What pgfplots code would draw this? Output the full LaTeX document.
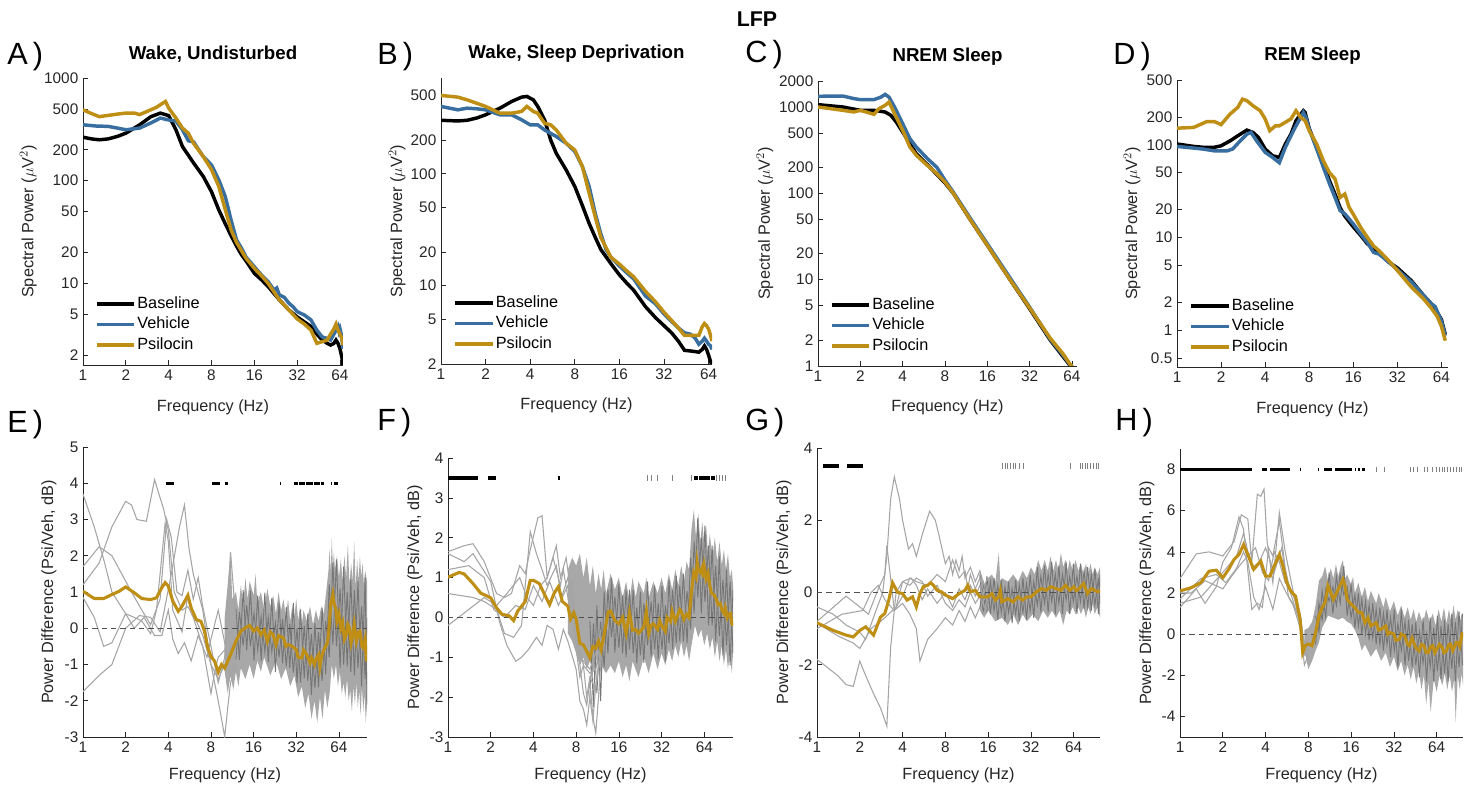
\documentclass[border=0pt]{standalone}
\usepackage{fontspec}
\setmainfont{Liberation Sans}
\usepackage{pgfplots}
\pgfplotsset{compat=1.18}
\definecolor{axc}{RGB}{38,38,38}
\definecolor{veh}{RGB}{56,110,160}
\definecolor{psi}{RGB}{190,143,20}
\definecolor{gline}{RGB}{165,165,165}
\definecolor{gbandL}{RGB}{168,168,168}
\definecolor{gzig}{RGB}{118,118,118}
\definecolor{zline}{RGB}{80,80,80}
\tikzset{
  bl/.style={black, line width=2.6pt},
  vl/.style={veh, line width=2.6pt},
  pl/.style={psi, line width=2.6pt},
  gl/.style={gline, line width=0.8pt},
  gz/.style={gzig, line width=0.7pt},
  gold/.style={psi, line width=2.3pt},
  zl/.style={zline, dash pattern=on 4pt off 3pt, line width=0.9pt},
  sig/.style={black, line width=2.6pt},
}
\pgfplotsset{
  scale only axis, enlargelimits=false,
  axis x line*=bottom, axis y line*=left,
  axis line style={-, draw=axc, line width=0.6pt},
  tick pos=left, tick align=inside, major tick length=3.5pt,
  tick style={draw=axc, line width=0.5pt},
  log basis x=2,
  ticklabel style={font=\fontsize{11.5}{12}\selectfont, text=axc},
  /pgf/number format/assume math mode=true,
  label style={font=\fontsize{12.2}{13}\selectfont, text=axc},
  title style={font=\fontsize{14}{16}\selectfont\bfseries, text=black, at={(0.5,1)}, anchor=south, yshift=2pt},
  legend cell align=left,
  legend image code/.code={\draw[#1, line width=2.6pt] (0pt,0pt) -- (28pt,0pt);},
  legend style={at={(0.045,0.035)}, anchor=south west, draw=none, fill=none,
      font=\fontsize{12.2}{13}\selectfont, row sep=1pt, inner sep=0pt,
      nodes={text height=9pt, text depth=3pt, inner sep=1.2pt}},
}
\begin{document}
\begin{tikzpicture}
\path[use as bounding box] (0,0) rectangle (1104.75pt,591.75pt);
\node[font=\fontsize{16}{18}\selectfont\bfseries] at (567.75pt,577.5pt) {LFP};
\node[anchor=west, inner sep=0, font=\fontsize{23}{25}\selectfont] at (5.25pt,549pt) {A\,)};
\node[anchor=west, inner sep=0, font=\fontsize{23}{25}\selectfont] at (282.75pt,549pt) {B\,)};
\node[anchor=west, inner sep=0, font=\fontsize{23}{25}\selectfont] at (558.75pt,551pt) {C\,)};
\node[anchor=west, inner sep=0, font=\fontsize{23}{25}\selectfont] at (834.75pt,549pt) {D\,)};
\node[anchor=west, inner sep=0, font=\fontsize{23}{25}\selectfont] at (5.25pt,273pt) {E\,)};
\node[anchor=west, inner sep=0, font=\fontsize{23}{25}\selectfont] at (282.75pt,274.5pt) {F\,)};
\node[anchor=west, inner sep=0, font=\fontsize{23}{25}\selectfont] at (558.75pt,274.5pt) {G\,)};
\node[anchor=west, inner sep=0, font=\fontsize{23}{25}\selectfont] at (836.25pt,274.5pt) {H\,)};

% ---------------- A ----------------
\begin{axis}[anchor=south west, at={(62.25pt,318pt)}, width=195pt, height=215.25pt,
  xmode=log, ymode=log, xmin=1, xmax=67.2, ymin=1.6, ymax=1000,
  xtick={1,2,4,8,16,32,64}, xticklabels={1,2,4,8,16,32,64},
  ytick={2,5,10,20,50,100,200,500,1000}, yticklabels={2,5,10,20,50,100,200,500,1000},
  xlabel={Frequency (Hz)}, ylabel={Spectral Power ($\mu$V$^2$)},
  xlabel style={at={(axis description cs:0.5,-0.146)}, anchor=center},
  ylabel style={at={(axis description cs:-0.21,0.5)}, anchor=center},
  title={Wake, Undisturbed}]
\addplot[bl] coordinates {(1,265) (1.15,255) (1.3,250) (1.5,255) (1.75,270) (2,290) (2.5,350) (3,420) (3.5,455) (4,430) (4.5,313) (5,215) (6,148) (7,110) (8,78) (9,52) (10,38) (11,29) (12,23) (13,19) (14,16.5) (16,12.5) (18,10.8) (20,9.3) (24,6.9) (28,5.5) (32,4.7) (36,4.2) (40,3.8) (44,3.2) (48,2.8) (52,2.6) (55,2.5) (58,2.6) (60,2.8) (62,2.6) (64,2.3) (66,1.9) (67.2,1.6)};
\addlegendentry{Baseline}
\addplot[vl] coordinates {(1,350) (1.25,340) (1.5,338) (1.75,325) (2,313) (2.5,325) (3,365) (3.5,407) (4,390) (4.5,380) (5,313) (5.5,245) (6,238) (6.5,200) (7,172) (8,142) (9,102) (10,70) (11,41) (12,26.5) (13,22) (14,18) (16,14.5) (18,12) (20,10.4) (22,8.6) (23,9) (24,7.7) (26,7.3) (28,6.4) (30,5.9) (32,5.3) (36,4.9) (40,4.4) (44,3.5) (48,3.0) (52,2.9) (55,2.8) (58,3.2) (60,3.5) (62,3.8) (63,3.4) (64,3.6) (66,3.0) (67.2,2.3)};
\addlegendentry{Vehicle}
\addplot[pl] coordinates {(1,490) (1.15,450) (1.3,420) (1.5,432) (1.75,445) (2,455) (2.3,455) (2.5,440) (3,490) (3.3,520) (3.5,550) (3.8,590) (4,510) (4.5,407) (5,325) (5.5,290) (6,230) (7,172) (8,128) (9,88) (10,52) (11,33) (12,25) (14,17.5) (16,14) (18,11.8) (20,10) (24,6.9) (28,5.5) (32,4.5) (36,4.0) (40,3.5) (44,2.6) (48,2.7) (52,2.8) (55,3.2) (58,3.6) (60,4.0) (62,3.5) (64,3.2) (66,2.9) (67.2,2.5)};
\addlegendentry{Psilocin}
\end{axis}

% ---------------- B ----------------
\begin{axis}[anchor=south west, at={(330.75pt,318.75pt)}, width=203.25pt, height=214.5pt,
  xmode=log, ymode=log, xmin=1, xmax=67.5, ymin=2, ymax=716,
  xtick={1,2,4,8,16,32,64}, xticklabels={1,2,4,8,16,32,64},
  ytick={2,5,10,20,50,100,200,500}, yticklabels={2,5,10,20,50,100,200,500},
  xlabel={Frequency (Hz)}, ylabel={Spectral Power ($\mu$V$^2$)},
  xlabel style={at={(axis description cs:0.5,-0.146)}, anchor=center},
  ylabel style={at={(axis description cs:-0.162,0.5)}, anchor=center},
  title={Wake, Sleep Deprivation}]
\addplot[bl] coordinates {(1,300) (1.3,296) (1.5,300) (1.75,315) (2,336) (2.5,385) (3,442) (3.5,483) (3.8,490) (4.2,457) (4.5,399) (5,303) (5.5,200) (6,152) (7,108) (8,77) (9,52) (10,36) (11,27) (12,21) (14,15.8) (16,12.5) (18,10.5) (20,9.1) (24,6.5) (28,5.2) (32,4.4) (36,3.8) (40,3.2) (44,2.65) (50,2.6) (55,2.55) (58,2.7) (60,2.9) (62,2.7) (64,2.4) (66,2.1) (67.5,1.95)};
\addlegendentry{Baseline}
\addplot[vl] coordinates {(1,399) (1.2,380) (1.3,372) (1.5,385) (1.75,380) (2,372) (2.5,336) (3,336) (3.5,303) (4,273) (4.5,273) (5,246) (6,215) (7,187) (8,158) (9,116) (10,77) (11,44) (12,29) (13,21) (14,18) (16,15) (18,13) (20,11.5) (24,8.1) (28,6.9) (32,5.6) (36,4.8) (40,4.2) (44,3.8) (48,3.7) (52,3.4) (55,3.0) (58,3.2) (60,3.4) (62,3.2) (64,3.0) (66,2.9) (67.5,2.7)};
\addlegendentry{Vehicle}
\addplot[pl] coordinates {(1,500) (1.3,483) (1.5,457) (1.75,425) (2,399) (2.5,347) (3,347) (3.5,360) (3.8,399) (4.2,360) (4.5,347) (5,282) (5.5,273) (6,246) (7,187) (8,163) (9,116) (10,67) (11,41) (12,27) (14,18) (16,15.6) (18,13.5) (20,12) (24,8.9) (28,7.2) (32,5.8) (36,4.9) (40,4.2) (44,3.6) (50,3.6) (55,3.6) (58,4.3) (60,4.6) (62,4.4) (64,4.1) (66,3.6) (67.5,3.2)};
\addlegendentry{Psilocin}
\end{axis}

% ---------------- C ----------------
\begin{axis}[anchor=south west, at={(613.5pt,317.25pt)}, width=194.25pt, height=213.75pt,
  xmode=log, ymode=log, xmin=1, xmax=69.5, ymin=1, ymax=2000,
  xtick={1,2,4,8,16,32,64}, xticklabels={1,2,4,8,16,32,64},
  ytick={1,2,5,10,20,50,100,200,500,1000,2000}, yticklabels={1,2,5,10,20,50,100,200,500,1000,2000},
  xlabel={Frequency (Hz)}, ylabel={Spectral Power ($\mu$V$^2$)},
  xlabel style={at={(axis description cs:0.5,-0.146)}, anchor=center},
  ylabel style={at={(axis description cs:-0.205,0.5)}, anchor=center},
  title={NREM Sleep}]
\addplot[bl] coordinates {(1,1064) (1.5,1000) (2,915) (2.5,915) (3,875) (3.3,800) (3.6,670) (4,513) (4.5,376) (5,288) (6,215) (7,165) (8,132) (9.17,100) (12.05,50) (16,25) (23.2,10) (32,4.6) (44.8,2) (55,1.3) (64,0.95) (66,0.85)};
\addlegendentry{Baseline}
\addplot[vl] coordinates {(1,1330) (1.5,1340) (1.8,1250) (2,1216) (2.5,1216) (2.8,1300) (3,1400) (3.2,1300) (3.5,1000) (4,641) (4.5,430) (5,344) (6,252) (7,200) (8,142) (9.17,103) (12.05,52) (16,26) (23.2,10.5) (32,4.8) (44.8,2.05) (55,1.35) (64,0.97) (66,0.87)};
\addlegendentry{Vehicle}
\addplot[pl] coordinates {(1,1000) (1.5,915) (1.8,875) (2,915) (2.5,822) (2.7,950) (3,1045) (3.2,1140) (3.5,837) (4,537) (4.5,344) (5,276) (6,210) (7,169) (8,135) (9.17,100) (12.05,50) (16,25) (23.2,10) (32,4.7) (44.8,2.1) (55,1.4) (62,1.05) (64,1.0) (66,0.88)};
\addlegendentry{Psilocin}
\end{axis}

% ---------------- D ----------------
\begin{axis}[anchor=south west, at={(882.75pt,316.5pt)}, width=203.25pt, height=215.25pt,
  xmode=log, ymode=log, xmin=1, xmax=71, ymin=0.4, ymax=500,
  xtick={1,2,4,8,16,32,64}, xticklabels={1,2,4,8,16,32,64},
  ytick={0.5,1,2,5,10,20,50,100,200,500}, yticklabels={0.5,1,2,5,10,20,50,100,200,500},
  xlabel={Frequency (Hz)}, ylabel={Spectral Power ($\mu$V$^2$)},
  xlabel style={at={(axis description cs:0.5,-0.146)}, anchor=center},
  ylabel style={at={(axis description cs:-0.166,0.5)}, anchor=center},
  title={REM Sleep}]
\addplot[bl] coordinates {(1,102) (1.3,96) (1.5,94) (1.8,94) (2,97.5) (2.3,110) (2.6,125) (3,144) (3.3,136) (3.6,120) (4,90) (4.5,76) (5,73) (5.5,102) (6,130) (6.5,182) (7,214) (7.3,233) (7.5,223) (8,150) (9,94) (10,62) (11,41) (12,29.4) (13,21) (14,17) (16,13) (18,10.5) (20,8.5) (24,6.9) (28,5.4) (32,4.7) (40,3.4) (48,2.4) (55,1.9) (60,1.55) (64,1.3) (68,0.9)};
\addlegendentry{Baseline}
\addplot[vl] coordinates {(1,96) (1.5,90) (1.8,86) (2.2,86) (2.4,90) (2.7,110) (3,130) (3.2,136) (3.5,110) (4,83) (4.5,73) (5,64) (5.5,94) (6,125) (6.5,160) (7,197) (7.3,223) (7.6,197) (8,148) (9,90) (10,57) (11,38) (12,27) (13,19.5) (14,18) (16,14) (18,10.9) (20,8.8) (22,6.9) (24,6.6) (28,5.4) (32,4.5) (36,3.8) (40,3.3) (48,2.4) (55,1.9) (58,1.8) (62,1.4) (64,1.25) (68,0.87)};
\addlegendentry{Vehicle}
\addplot[pl] coordinates {(1,151) (1.3,154) (1.6,178) (1.8,178) (2,165) (2.3,214) (2.6,253) (2.8,311) (3,299) (3.3,264) (3.7,233) (4,190) (4.3,142) (4.7,160) (5,160) (5.5,175) (6,190) (6.5,233) (7,197) (7.5,182) (8,142) (9,102) (10,67) (11,50) (12,43) (13,27) (14,29.4) (15,21.1) (16,17.8) (18,12.8) (20,10) (22,8.1) (24,7.2) (28,5.6) (32,4.4) (40,2.9) (48,2.2) (55,1.7) (60,1.4) (64,1.1) (68,0.77)};
\addlegendentry{Psilocin}
\end{axis}

% ---------------- E ----------------
\begin{axis}[anchor=south west, at={(62.25pt,39pt)}, width=213pt, height=217.5pt,
  xmode=log, xmin=1, xmax=101, ymin=-3, ymax=5,
  xtick={1,2,4,8,16,32,64}, xticklabels={1,2,4,8,16,32,64},
  ytick={-3,-2,-1,0,1,2,3,4,5},
  xlabel={Frequency (Hz)}, ylabel={Power Difference (Psi/Veh, dB)},
  xlabel style={at={(axis description cs:0.5,-0.133)}, anchor=center},
  ylabel style={at={(axis description cs:-0.12,0.5)}, anchor=center}]
\addplot[fill=gbandL, draw=none] coordinates {(10,0.3) (10.5,1.2) (11,2.1) (11.3,0.8) (12,1.0) (12.5,0.5) (13,1.2) (13.5,0.6) (14,1.4) (14.5,0.8) (15,1.3) (16,0.9) (16.5,1.5) (17,0.7) (18,1.0) (19,0.5) (20,1.1) (21,0.6) (22,0.9) (23,0.4) (24,1.0) (25,0.5) (26,0.8) (27,0.3) (28,0.8) (29,0.2) (30,0.6) (31,0.3) (32,0.8) (33,0.2) (34,0.6) (35,0.1) (36,0.5) (38,0.2) (40,0.6) (42,0.1) (44,0.5) (46,0.2) (48,0.6) (50,0.4) (52,1.0) (54,1.6) (55,2.2) (56,1.5) (57,2.5) (58,1.7) (59,2.1) (60,1.6) (62,2.0) (64,1.4) (66,1.9) (68,1.3) (70,2.0) (72,1.4) (74,2.3) (76,1.2) (78,1.8) (80,1.3) (82,2.4) (84,1.1) (86,1.9) (88,1.3) (90,2.0) (92,1.4) (94,1.8) (96,1.2) (98,1.6) (101,1.3)
 (101,-2.1) (99,-2.6) (97,-1.8) (95,-2.3) (93,-1.6) (91,-2.4) (89,-1.7) (87,-2.2) (85,-1.5) (83,-2.1) (81,-1.6) (79,-2.3) (77,-1.7) (75,-2.0) (73,-1.4) (71,-1.9) (69,-1.5) (67,-1.8) (65,-1.2) (63,-1.6) (61,-1.0) (59,-1.4) (57,-1.0) (55,-1.8) (53,-2.2) (51,-1.7) (49,-2.5) (47,-1.9) (45,-2.6) (43,-2.0) (41,-2.5) (39,-1.8) (37,-2.2) (35,-1.6) (33,-1.9) (31,-1.3) (29,-1.6) (27,-1.1) (25,-1.4) (23,-0.9) (21,-1.3) (19,-0.8) (18,-1.2) (17,-0.9) (16,-1.4) (15,-1.0) (14,-1.4) (13,-1.1) (12.5,-1.6) (12,-1.2) (11.5,-1.7) (11,-1.3) (10.5,-1.8) (10,-1.2)} -- cycle;
\addplot[gz] coordinates {(12,0.54) (12.7,-0.87) (13.5,1.05) (14.3,-0.6) (15.2,1.04) (16.1,-0.89) (17.1,0.9) (18.1,-0.9) (19.2,0.98) (20.3,-0.93) (21.5,0.84) (22.8,-1.21) (24.2,0.7) (25.6,-0.97) (27.2,0.58) (28.8,-1.1) (30.5,0.69) (32.4,-1.53) (34.3,0.52) (36.4,-1.39) (38.6,0.41) (40.9,-1.84) (43.3,0.15) (45.9,-1.63) (48.7,0.57) (51.6,-1.27) (54.7,1.21) (58,-0.45) (61.5,1.9) (65.2,-1.1) (69.1,1.7) (73.2,-1.05) (77.6,1.35) (82.3,-1.3) (87.2,1.3) (92.5,-1.6) (98,1.4) (101,-2.1)};
\addplot[gz] coordinates {(12,-0.86) (12.7,0.45) (13.5,-0.48) (14.3,0.63) (15.2,-0.5) (16.1,0.42) (17.1,-0.6) (18.1,0.32) (19.2,-0.65) (20.3,0.3) (21.5,-0.65) (22.8,0.15) (24.2,-0.8) (25.6,0.25) (27.2,-1.05) (28.8,0.13) (30.5,-1.22) (32.4,0.0) (34.3,-1.5) (36.4,0.08) (38.6,-1.45) (40.9,-0.15) (43.3,-1.65) (45.9,-0.1) (48.7,-1.45) (51.6,0.2) (54.7,-0.8) (58,1.8) (61.5,-0.5) (65.2,1.1) (69.1,-1.0) (73.2,1.0) (77.6,-1.2) (82.3,1.05) (87.2,-1.1) (92.5,0.6) (98,-1.4) (101,0.3)};
\addplot[gl] coordinates {(1,3.7) (1.2,2.8) (1.4,1.9) (1.6,1.0) (2,0.4) (2.3,0.3) (2.6,0.2) (3,-0.15) (3.3,0.5) (3.8,2.9) (4,2.4) (4.3,0.5) (5,-0.1) (5.5,0.9) (6,0.4) (7,-0.2) (8,-1.0) (9,-1.4) (10,-1.0) (11,-0.5) (12,-1.2)};
\addplot[gl] coordinates {(1,-1.75) (1.3,-1.3) (1.6,-1.0) (2,0.0) (2.5,0.35) (3,0.3) (3.5,-0.1) (4.2,1.5) (4.8,2.8) (5.2,3.4) (5.6,2.2) (6,1.5) (7,0.5) (8,-1.0) (9,-2.0) (9.5,-2.5) (10,-3.0) (10.5,-2.2) (11,-1.5) (12,-1.0)};
\addplot[gl] coordinates {(1,1.7) (1.3,2.25) (1.6,2.0) (2,1.3) (2.2,1.0) (2.6,0.5) (3,0.1) (3.5,0.8) (3.9,3.0) (4.2,2.5) (4.6,1.0) (5,0.9) (5.5,1.6) (6,0.8) (6.5,1.4) (7,0.6) (8,-0.5) (9,-1.5) (10,-0.8) (11,2.1) (12,0.2)};
\addplot[gl] coordinates {(1,1.2) (1.3,1.8) (1.6,2.8) (2,3.5) (2.2,3.4) (2.4,3.0) (2.8,2.95) (3.2,4.1) (3.5,3.6) (3.7,3.3) (4,2.7) (4.4,1.0) (5,0.5) (5.5,0.6) (6,0.3) (7,-0.5) (8,-1.8) (8.5,-1.2) (9,-0.8) (10,-0.6) (11,0.0) (12,-0.5)};
\addplot[gl] coordinates {(1,0.85) (1.2,0.3) (1.4,-0.5) (1.6,-0.4) (2,0.4) (2.3,0.0) (2.7,0.3) (3.2,-0.2) (3.6,-0.2) (4,0.5) (4.3,-0.3) (4.7,-0.7) (5.2,-0.4) (5.8,-0.9) (6.5,-0.2) (7.5,-0.8) (8,-0.3) (9,0.5) (10,-0.4) (11,-1.3) (12,-0.6)};
\addplot[zl] coordinates {(1,0) (101,0)};
\addplot[gold] coordinates {(1,1.02) (1.2,0.82) (1.4,0.82) (1.6,0.93) (1.8,1.02) (2,1.14) (2.3,0.98) (2.6,0.82) (3,0.79) (3.3,0.84) (3.6,1.12) (3.8,1.26) (4,1.16) (4.3,0.75) (4.7,0.47) (5,0.61) (5.5,0.91) (5.8,0.56) (6.3,0.24) (6.8,0.19) (7.2,-0.08) (7.6,-0.54) (8,-0.78) (8.5,-0.91) (9,-1.21) (9.5,-1.0) (10,-1.1) (11,-0.73) (12,-0.36) (13,-0.08) (14,0.01) (15,0.08) (16,-0.08) (17,0.01) (18,-0.18) (19,-0.05) (20,-0.36) (21,-0.1) (22,-0.18) (23,-0.45) (24,-0.2) (26,-0.27) (27,-0.5) (28,-0.45) (30,-0.5) (32,-0.59) (33,-0.8) (35,-0.82) (36,-0.6) (38,-0.73) (40,-0.95) (41,-0.82) (43,-1.0) (44,-0.85) (46,-0.73) (47,-1.05) (48,-0.82) (50,-0.6) (51,-0.54) (53,-0.4) (54,-0.18) (56,0.66) (58,0.93) (59,0.7) (61,0.52) (62,0.2) (64,0.38) (66,0.0) (68,0.15) (70,-0.3) (72,-0.18) (74,0.1) (76,0.01) (78,-0.4) (80,-0.22) (82,0.1) (85,-0.36) (88,-0.1) (90,-0.08) (93,-0.5) (95,-0.54) (98,-0.3) (100,-0.91) (101,-0.6)};
\addplot[sig, unbounded coords=jump] coordinates {(3.87,4) (4.4,4) (nan,nan) (8.2,4) (9.2,4) (nan,nan) (10.1,4) (10.5,4) (nan,nan) (24.4,4) (25,4) (nan,nan) (30.6,4) (33,4) (nan,nan) (33.6,4) (37,4) (nan,nan) (37.7,4) (42,4) (nan,nan) (42.8,4) (47,4) (nan,nan) (47.8,4) (50.6,4) (nan,nan) (56,4) (57.5,4) (nan,nan) (59.5,4) (62.6,4)};
\end{axis}

% ---------------- F ----------------
\begin{axis}[anchor=south west, at={(336pt,39pt)}, width=213.75pt, height=209.25pt,
  xmode=log, xmin=1, xmax=102, ymin=-3, ymax=4,
  xtick={1,2,4,8,16,32,64}, xticklabels={1,2,4,8,16,32,64},
  ytick={-3,-2,-1,0,1,2,3,4},
  xlabel={Frequency (Hz)}, ylabel={Power Difference (Psi/Veh, dB)},
  xlabel style={at={(axis description cs:0.5,-0.136)}, anchor=center},
  ylabel style={at={(axis description cs:-0.116,0.5)}, anchor=center}]
\addplot[fill=gbandL, draw=none] coordinates {(7,1.2) (7.5,1.5) (8,1.3) (8.5,1.6) (9,1.0) (9.5,1.5) (10,0.8) (10.5,1.3) (11,0.6) (11.5,1.1) (12,0.7) (12.5,1.2) (13,0.6) (14,1.1) (15,0.7) (16,1.0) (17,0.5) (18,0.9) (19,0.4) (20,1.0) (21,0.5) (22,0.9) (24,0.6) (25,1.0) (26,0.5) (28,0.9) (30,0.6) (32,1.0) (34,0.6) (36,1.1) (38,0.7) (40,1.2) (42,0.8) (44,1.3) (46,0.9) (48,1.4) (50,1.2) (52,2.2) (54,2.7) (56,2.0) (58,2.6) (60,1.9) (62,2.4) (64,1.8) (66,2.3) (68,1.6) (70,2.1) (73,1.5) (76,2.0) (79,1.4) (82,1.9) (85,1.3) (88,1.7) (91,1.2) (94,1.6) (97,1.0) (100,1.2) (102,0.8)
 (102,-0.9) (100,-1.4) (97,-0.9) (94,-1.3) (91,-0.8) (88,-1.2) (85,-0.7) (82,-1.1) (79,-0.6) (76,-1.0) (73,-0.5) (70,-0.8) (67,-0.4) (64,-0.7) (61,-0.3) (58,-0.5) (55,-0.2) (52,-0.7) (50,-1.1) (48,-0.7) (46,-1.0) (44,-0.6) (42,-1.0) (40,-0.7) (38,-1.1) (36,-0.8) (34,-1.2) (32,-0.9) (30,-1.3) (28,-0.9) (26,-1.4) (24,-1.0) (22,-1.5) (20,-1.1) (19,-1.6) (18,-1.2) (17,-1.5) (16,-1.1) (15,-1.4) (14,-1.2) (13,-1.4) (12,-1.2) (11.5,-1.3) (11,-1.0) (10.5,-1.4) (10,-1.1) (9.5,-1.3) (9,-1.0) (8.5,-1.2) (8,-0.9) (7.5,-0.6) (7,-0.4)} -- cycle;
\addplot[gz] coordinates {(10,-0.1) (10.6,-2.25) (11.2,0.3) (11.9,-2.1) (12.6,0.65) (13.4,-0.9) (14.2,1.0) (15,-0.88) (16,0.84) (17,-0.9) (18,0.7) (19,-0.8) (20.2,0.7) (21.4,-1.15) (22.7,0.65) (24,-1.14) (25.5,0.9) (27,-1.0) (28.6,0.8) (30.3,-1.05) (32.2,0.8) (34.1,-1.1) (36.1,0.95) (38.3,-0.8) (40.6,1.05) (43,-0.6) (45.6,1.1) (48.4,-0.64) (51.3,1.5) (54.3,0.1) (57.6,2.5) (61,0.1) (64.7,2.3) (68.6,-0.2) (72.7,1.8) (77,-0.6) (81.7,1.53) (86.6,-0.95) (91.8,1.2) (97.3,-1.2) (102,0.7)};
\addplot[gz] coordinates {(10,-2.0) (10.6,-0.15) (11.2,-1.9) (11.9,-0.1) (12.6,-1.25) (13.4,0.7) (14.2,-0.5) (15,0.52) (16,-0.76) (17,0.55) (18,-1.0) (19,0.7) (20.2,-0.9) (21.4,0.25) (22.7,-0.95) (24,0.36) (25.5,-0.7) (27,0.4) (28.6,-0.8) (30.3,0.35) (32.2,-0.8) (34.1,0.3) (36.1,-0.65) (38.3,0.7) (40.6,-0.65) (43,0.8) (45.6,-0.6) (48.4,0.66) (51.3,-0.3) (54.3,1.9) (57.6,0.5) (61,2.0) (64.7,0.4) (68.6,1.8) (72.7,-0.2) (77,1.3) (81.7,-0.47) (86.6,0.95) (91.8,-0.7) (97.3,0.9) (102,-0.9)};
\addplot[gl] coordinates {(1,1.65) (1.3,1.8) (1.5,1.85) (1.8,1.4) (2.2,0.6) (2.5,0.5) (2.8,0.6) (3.2,1.3) (3.5,1.1) (3.8,1.7) (4.3,2.5) (4.6,2.55) (5,1.0) (5.5,1.5) (6.2,0.8) (6.5,1.2) (7,0.5) (7.5,0.9) (8,-0.5) (8.5,-1.2) (9,-1.9) (9.5,-2.2) (10,-1.6) (10.5,-2.5) (11,-2.9) (11.5,-2.0) (12,-1.0)};
\addplot[gl] coordinates {(1,1.6) (1.3,1.4) (1.5,1.6) (2,0.9) (2.3,-0.1) (2.6,-0.7) (3,-1.1) (3.3,-1.0) (3.7,-0.8) (4.2,-0.5) (4.6,-0.7) (5,-0.2) (5.5,-0.3) (6,-0.8) (6.5,-0.3) (7,-0.6) (8,-1.3) (8.5,-2.1) (9,-2.3) (9.5,-2.7) (10,-2.0) (10.5,-2.6) (11,-1.7) (12,-0.9)};
\addplot[gl] coordinates {(1,0.6) (1.5,0.5) (1.8,0.4) (2.2,0.2) (2.5,-0.4) (2.9,-0.5) (3.3,-0.2) (3.8,2.15) (4.2,1.6) (4.6,1.2) (5,0.8) (5.8,1.3) (6.3,0.5) (7,1.0) (7.5,0.3) (8,-0.8) (8.5,-1.5) (9,-1.2) (9.5,-2.0) (10,-1.5) (11,-1.8) (12,-0.6)};
\addplot[gl] coordinates {(1,-0.2) (1.4,0.2) (1.8,0.5) (2.2,0.3) (2.6,0.6) (3.2,1.0) (3.6,0.5) (4,0.3) (4.5,0.8) (5,1.0) (5.8,1.8) (6.2,1.0) (6.8,1.5) (7.5,0.4) (8,-0.2) (8.5,-0.9) (9,-1.1) (10,-1.3) (11,-0.9) (12,-0.3)};
\addplot[gl] coordinates {(1,1.2) (1.4,1.3) (1.8,1.0) (2.1,0.2) (2.5,0.0) (3,0.3) (3.5,0.2) (4,0.8) (4.6,0.4) (5.2,0.9) (6,0.3) (7,0.8) (7.5,-0.2) (8,-0.5) (9,-1.2) (10,-1.4) (11,-1.3) (12,-0.5)};
\addplot[zl] coordinates {(1,0) (102,0)};
\addplot[gold] coordinates {(1,1.01) (1.2,1.13) (1.3,1.09) (1.5,0.85) (1.7,0.61) (1.9,0.53) (2,0.49) (2.2,0.24) (2.4,0.08) (2.7,0.04) (2.9,-0.08) (3.1,0.16) (3.3,0.28) (3.5,0.4) (3.8,0.93) (4,0.93) (4.4,0.85) (4.8,0.57) (5.2,0.32) (5.6,0.61) (6,0.77) (6.4,0.4) (7,0.28) (7.3,-0.04) (7.7,0.12) (8,-0.04) (8.5,-0.65) (9,-0.69) (9.5,-0.85) (10,-1.01) (10.5,-0.73) (11,-0.77) (11.5,-0.6) (12,-0.81) (12.5,-0.49) (13,-0.16) (13.5,0.15) (14,0.16) (15,-0.08) (16,-0.16) (17,0.0) (18,-0.4) (19,0.12) (20,-0.32) (21,-0.3) (22,-0.4) (24,-0.24) (25,0.16) (26,-0.4) (27,-0.2) (28,-0.16) (30,-0.3) (31,-0.08) (32,-0.2) (34,-0.35) (35,0.0) (37,-0.1) (38,0.16) (40,-0.1) (41,0.0) (43,0.2) (44,0.16) (46,-0.05) (48,0.08) (50,0.0) (52,0.65) (54,1.13) (56,1.0) (57,1.38) (58,1.2) (60,1.13) (62,1.26) (63,1.0) (64,1.26) (66,0.97) (68,1.1) (70,0.81) (72,0.6) (75,0.57) (78,0.45) (80,0.32) (83,0.35) (85,0.2) (88,0.1) (90,0.24) (93,0.0) (95,0.08) (98,0.1) (100,-0.16) (102,-0.2)};
\addplot[sig, unbounded coords=jump] coordinates {(1,3.5) (1.63,3.5) (nan,nan) (1.92,3.5) (2.17,3.5) (nan,nan) (5.95,3.5) (6.2,3.5) (nan,nan) (54,3.5) (58,3.5) (nan,nan) (59,3.5) (70,3.5) (nan,nan) (71,3.5) (76,3.5)};
\addplot[gray, only marks, mark=|, mark size=2pt, mark options={line width=0.5pt}] coordinates {(25.2,3.5) (27.3,3.5) (29.9,3.5) (37.8,3.5) (52,3.5) (78,3.5) (82,3.5) (86,3.5) (90,3.5)};
\end{axis}

% ---------------- G ----------------
\begin{axis}[anchor=south west, at={(612.75pt,39pt)}, width=212.25pt, height=216.75pt,
  xmode=log, xmin=1, xmax=98, ymin=-4, ymax=4,
  xtick={1,2,4,8,16,32,64}, xticklabels={1,2,4,8,16,32,64},
  ytick={-4,-2,0,2,4},
  xlabel={Frequency (Hz)}, ylabel={Power Difference (Psi/Veh, dB)},
  xlabel style={at={(axis description cs:0.5,-0.131)}, anchor=center},
  ylabel style={at={(axis description cs:-0.117,0.5)}, anchor=center}]
\addplot[fill=gbandL, draw=none] coordinates {(14,0.6) (15,0.2) (16,0.4) (17,0.5) (18,0.3) (19,1.1) (19.5,0.3) (20,0.4) (22,0.3) (24,0.5) (26,0.3) (28,0.6) (30,0.4) (32,0.7) (34,0.5) (36,0.9) (38,0.6) (40,0.9) (42,0.6) (44,1.0) (46,0.6) (48,0.9) (50,0.6) (52,1.1) (54,0.7) (56,0.9) (58,0.6) (60,0.9) (63,0.6) (66,0.9) (69,0.6) (72,0.8) (75,0.5) (78,0.8) (81,0.5) (84,0.8) (87,0.5) (90,0.7) (94,0.5) (98,0.7)
 (98,-0.7) (94,-0.4) (90,-0.6) (87,-0.3) (84,-0.6) (81,-0.4) (78,-0.7) (75,-0.4) (72,-0.6) (69,-0.4) (66,-0.6) (63,-0.4) (60,-0.6) (57,-0.5) (54,-0.9) (51,-0.5) (48,-0.7) (45,-0.5) (42,-0.7) (39,-0.5) (36,-0.8) (33,-0.6) (30,-0.8) (28,-0.6) (26,-0.9) (24,-0.6) (22,-0.9) (20,-0.7) (18,-0.8) (16,-0.5) (15,-0.7) (14,-0.5)} -- cycle;
\addplot[gz] coordinates {(14,0.5) (14.8,-0.6) (15.7,0.45) (16.6,-0.6) (17.6,0.4) (18.7,-0.75) (19.8,0.35) (21,-0.8) (22.3,0.3) (23.6,-0.85) (25,0.35) (26.5,-0.8) (28.1,0.4) (29.8,-0.75) (31.6,0.5) (33.5,-0.7) (35.5,0.7) (37.6,-0.55) (39.9,0.75) (42.3,-0.55) (44.8,0.85) (47.5,-0.6) (50.3,0.75) (53.4,-0.6) (56.6,0.85) (60,-0.6) (63.6,0.8) (67.4,-0.6) (71.4,0.8) (75.7,-0.45) (80.3,0.7) (85.1,-0.5) (90.2,0.65) (95.6,-0.6) (98,0.5)};
\addplot[gz] coordinates {(14,-0.45) (14.8,0.25) (15.7,-0.5) (16.6,0.3) (17.6,-0.5) (18.7,0.2) (19.8,-0.55) (21,0.15) (22.3,-0.55) (23.6,0.1) (25,-0.6) (26.5,0.2) (28.1,-0.55) (29.8,0.25) (31.6,-0.5) (33.5,0.3) (35.5,-0.35) (37.6,0.45) (39.9,-0.3) (42.3,0.5) (44.8,-0.25) (47.5,0.5) (50.3,-0.3) (53.4,0.5) (56.6,-0.2) (60,0.45) (63.6,-0.25) (67.4,0.45) (71.4,-0.25) (75.7,0.6) (80.3,-0.4) (85.1,0.5) (90.2,-0.35) (95.6,0.4) (98,-0.3)};
\addplot[gl] coordinates {(1,-0.4) (1.3,-0.6) (1.6,-0.9) (2,-1.1) (2.2,-1.3) (2.6,-0.5) (2.9,0.0) (3.1,1.0) (3.3,2.6) (3.5,3.2) (3.8,2.6) (4,2.0) (4.4,1.2) (4.7,1.35) (5,1.0) (5.5,1.6) (6.2,2.25) (6.8,2.0) (7.2,1.6) (8,0.8) (8.5,1.0) (9,0.5) (9.5,0.9) (10,0.6) (10.5,1.0) (11,0.4) (12,0.7) (13,0.3) (14,0.6) (15,0.2) (16,0.4)};
\addplot[gl] coordinates {(1,-1.85) (1.4,-2.3) (1.6,-2.55) (1.8,-2.6) (2,-1.9) (2.2,-2.3) (2.5,-2.8) (2.8,-3.2) (3.1,-3.7) (3.3,-1.5) (3.6,0.0) (4,0.3) (4.5,0.2) (5,0.4) (5.5,0.3) (6,-0.1) (7,0.2) (8,-0.3) (9,-0.5) (10,-0.2) (11,-0.4) (12,0.0) (13,-0.3) (14,-0.1) (15,-0.4) (16,-0.2)};
\addplot[gl] coordinates {(1,-0.8) (1.4,-0.3) (1.6,-0.1) (2,-0.4) (2.3,-0.6) (2.7,0.1) (3,0.5) (3.1,1.3) (3.5,-0.5) (4,-0.3) (4.5,-0.6) (5,-1.0) (5.3,-1.9) (6,-1.3) (7,-1.0) (8,-0.7) (9,-0.9) (10,-0.5) (11,-0.8) (12,-0.4) (13,-0.7) (14,-0.4) (15,-0.6) (16,-0.3)};
\addplot[gl] coordinates {(1,-0.85) (1.4,-1.2) (1.8,-1.4) (2,-1.55) (2.4,-1.0) (2.8,-0.8) (3.2,-0.6) (3.6,-0.4) (4,0.3) (4.6,0.4) (5,0.2) (5.5,-0.2) (6,0.1) (7,-0.3) (8,0.0) (9,-0.4) (10,0.1) (11,-0.2) (12,0.2) (13,-0.1) (14,0.2) (15,-0.2) (16,0.0)};
\addplot[gl] coordinates {(1,-1.0) (1.5,-0.6) (2.1,-0.5) (2.4,0.0) (2.7,0.2) (3,-0.2) (3.5,-0.5) (4,-0.1) (4.5,0.4) (5,0.3) (6,0.2) (7,0.5) (8,0.3) (9,0.9) (10,0.4) (11,0.6) (11.5,0.1) (12,0.5) (13,0.1) (14,0.4) (15,0.0) (16,0.2)};
\addplot[zl] coordinates {(1,0) (98,0)};
\addplot[gold] coordinates {(1,-0.84) (1.3,-1.05) (1.6,-1.18) (1.8,-1.23) (2,-1.05) (2.2,-0.95) (2.5,-1.18) (2.8,-0.68) (3,-0.58) (3.2,-0.21) (3.4,0.27) (3.7,0.0) (4,-0.03) (4.3,-0.21) (4.7,-0.12) (5,-0.4) (5.3,-0.03) (5.6,0.16) (6,0.2) (6.3,0.27) (6.6,0.2) (7,0.06) (7.5,0.02) (8,-0.07) (9,-0.17) (10,-0.03) (11,0.06) (11.5,0.2) (12,0.02) (13,0.06) (14,-0.12) (16,-0.12) (17,-0.03) (18,-0.21) (19,-0.12) (19.5,0.05) (20,-0.26) (22,-0.17) (24,-0.26) (26,-0.12) (28,-0.21) (30,-0.12) (32,-0.12) (35,0.02) (38,0.11) (41,0.06) (44,0.16) (48,0.11) (52,0.06) (56,0.2) (60,0.06) (64,0.16) (67,0.05) (70,0.11) (75,0.25) (80,-0.03) (85,0.11) (90,0.06) (95,0.02) (98,0.05)};
\addplot[sig, unbounded coords=jump] coordinates {(1.1,3.5) (1.42,3.5) (nan,nan) (1.63,3.5) (2.11,3.5)};
\addplot[gray, only marks, mark=|, mark size=2pt, mark options={line width=0.5pt}] coordinates {(20.1,3.5) (21,3.5) (22,3.5) (23,3.5) (24,3.5) (25,3.5) (26.5,3.5) (28.5,3.5) (60.6,3.5) (71.3,3.5) (74,3.5) (77,3.5) (80,3.5) (84,3.5) (88,3.5) (92,3.5) (96,3.5)};
\end{axis}

% ---------------- H ----------------
\begin{axis}[anchor=south west, at={(885pt,39pt)}, width=212.25pt, height=216pt,
  xmode=log, xmin=1, xmax=98, ymin=-5, ymax=9,
  xtick={1,2,4,8,16,32,64}, xticklabels={1,2,4,8,16,32,64},
  ytick={-4,-2,0,2,4,6,8},
  xlabel={Frequency (Hz)}, ylabel={Power Difference (Psi/Veh, dB)},
  xlabel style={at={(axis description cs:0.5,-0.132)}, anchor=center},
  ylabel style={at={(axis description cs:-0.117,0.5)}, anchor=center}]
\addplot[fill=gbandL, draw=none] coordinates {(7.5,0.2) (8,0.3) (8.5,0.6) (9,1.4) (9.5,2.6) (10,2.8) (10.5,3.3) (11,2.6) (11.5,3.2) (12,2.7) (12.5,3.4) (13,2.8) (13.5,3.3) (14,3.6) (14.5,2.7) (15,2.9) (16,2.4) (16.5,2.8) (17,2.0) (18,2.5) (19,1.8) (20,2.3) (21,1.6) (22,2.1) (24,1.5) (25,2.0) (27,1.3) (28,1.8) (30,1.1) (32,1.6) (34,0.9) (36,1.4) (38,0.8) (40,1.3) (42,0.7) (44,1.2) (46,0.6) (48,1.1) (51,0.5) (54,1.2) (57,0.6) (60,1.0) (63,0.4) (66,1.2) (69,0.6) (72,1.3) (75,0.5) (78,1.2) (81,0.6) (84,1.4) (87,0.7) (90,1.2) (93,0.6) (96,1.0) (98,0.6)
 (98,-2.5) (96,-1.9) (93,-2.7) (90,-2.0) (87,-4.3) (85,-2.2) (82,-2.8) (79,-2.0) (76,-2.7) (73,-1.9) (70,-2.5) (67,-2.0) (64,-2.8) (61,-2.2) (58,-3.8) (56,-2.3) (54,-3.4) (52,-2.0) (50,-2.7) (48,-1.8) (46,-2.4) (44,-1.6) (42,-2.2) (40,-1.5) (38,-2.0) (36,-1.3) (34,-1.8) (32,-1.1) (30,-1.6) (28,-0.9) (26,-1.3) (24,-0.7) (22,-1.1) (20,-0.5) (19,-0.8) (18,-0.2) (17,0.2) (16,0.5) (15,0.6) (14,0.8) (13,0.7) (12,0.8) (11,0.9) (10,0.3) (9.5,-0.4) (9,-0.8) (8.5,-1.3) (8,-1.7) (7.5,-0.8)} -- cycle;
\addplot[gz] coordinates {(9,0.9) (9.5,0.1) (10,2.1) (10.6,0.8) (11.2,3.0) (11.9,1.0) (12.6,2.8) (13.4,1.5) (14.2,3.3) (15,0.9) (16,2.4) (17,0.3) (18,2.0) (19,0.0) (20.2,1.6) (21.4,-0.3) (22.7,1.5) (24,-0.5) (25.5,1.3) (27,-0.8) (28.6,1.2) (30.3,-1.1) (32.2,1.2) (34.1,-1.6) (36.1,1.2) (38.3,-1.5) (40.6,0.7) (43,-1.6) (45.6,0.6) (48.4,-2.1) (51.3,0.8) (54.3,-2.3) (57.6,0.8) (61,-2.3) (64.7,0.9) (68.6,-2.2) (72.7,0.7) (77,-2.3) (81.7,1.0) (86.6,-2.3) (91.8,1.1) (97.3,-1.5)};
\addplot[gz] coordinates {(9,-0.5) (9.5,1.5) (10,0.7) (10.6,2.2) (11.2,1.6) (11.9,2.3) (12.6,1.4) (13.4,2.9) (14.2,1.9) (15,2.3) (16,0.8) (17,1.9) (18,0.4) (19,1.7) (20.2,0.0) (21.4,1.4) (22.7,-0.2) (24,1.2) (25.5,-0.5) (27,1.0) (28.6,-0.5) (30.3,0.8) (32.2,-0.8) (34.1,0.5) (36.1,-0.8) (38.3,0.6) (40.6,-1.3) (43,0.5) (45.6,-1.5) (48.4,0.1) (51.3,-1.4) (54.3,0.0) (57.6,-1.6) (61,0.3) (64.7,-1.8) (68.6,0.4) (72.7,-1.9) (77,0.5) (81.7,-1.7) (86.6,0.6) (91.8,-1.6) (97.3,1.0)};
\addplot[gl] coordinates {(1,2.7) (1.3,3.9) (1.6,4.0) (2,3.8) (2.4,4.5) (2.7,5.8) (3,5.6) (3.2,3.5) (3.5,6.8) (3.7,6.7) (3.9,7.05) (4.1,4.5) (4.5,2.5) (5,5.9) (5.5,4.0) (6,2.7) (6.5,1.5) (7,0.5) (7.5,-0.9) (8,-1.2)};
\addplot[gl] coordinates {(1,1.3) (1.3,2.2) (1.5,1.5) (1.8,2.3) (2,3.5) (2.3,4.2) (2.6,5.7) (2.8,5.1) (3.2,1.2) (3.5,1.5) (3.8,1.3) (4.2,4.2) (4.5,3.8) (5,5.5) (5.5,3.2) (6,2.0) (7,0.5) (7.5,-1.5) (8,-1.0)};
\addplot[gl] coordinates {(1,1.7) (1.4,2.7) (1.8,2.9) (2.1,2.5) (2.5,3.2) (2.8,4.0) (3,3.5) (3.3,1.8) (3.6,1.2) (4,2.3) (4.5,1.2) (5,2.7) (5.6,2.0) (6.2,1.5) (7,0.3) (7.5,-0.4) (8,-1.4)};
\addplot[gl] coordinates {(1,2.0) (1.2,2.0) (1.5,2.6) (2,2.2) (2.3,2.8) (2.6,3.3) (3,3.8) (3.4,4.2) (3.8,3.0) (4.2,2.6) (4.6,4.0) (5,3.5) (5.5,2.5) (6,2.2) (7,1.0) (7.5,-0.5) (8,-0.2)};
\addplot[gl] coordinates {(1,1.5) (1.4,1.8) (2,3.0) (2.5,3.8) (2.8,4.9) (3.2,3.2) (3.6,3.5) (4,4.2) (4.6,3.0) (5.2,4.2) (5.8,1.8) (7,0.8) (7.5,-1.0) (8,-0.7)};
\addplot[zl] coordinates {(1,0) (98,0)};
\addplot[gold] coordinates {(1,2.1) (1.2,2.26) (1.4,2.5) (1.6,3.06) (1.8,3.11) (2,2.74) (2.2,3.15) (2.4,3.63) (2.6,3.87) (2.8,4.35) (3,3.87) (3.3,3.15) (3.7,3.55) (4,2.82) (4.3,2.82) (4.6,3.31) (5,3.87) (5.3,3.31) (5.6,2.58) (6,2.1) (6.5,1.85) (7,0.73) (7.3,-0.89) (7.6,-0.56) (8,-0.48) (8.5,-0.56) (9,0.08) (9.5,0.89) (10,1.29) (10.5,1.53) (11,2.34) (11.5,2.02) (12,1.69) (13,2.18) (14,2.66) (14.5,2.34) (15,1.69) (16,1.45) (17,1.29) (18,1.05) (19,1.05) (20,0.56) (21,0.8) (22,0.4) (24,0.56) (25,0.2) (26,0.24) (28,0.4) (29,0.0) (30,0.08) (32,0.0) (33,-0.3) (35,-0.24) (36,0.0) (38,-0.08) (40,-0.5) (41,-0.56) (43,-0.2) (44,-0.4) (46,-0.7) (48,-0.81) (50,-0.5) (52,-0.56) (54,-0.9) (56,-0.89) (58,-0.6) (60,-0.56) (62,-0.9) (64,-0.73) (67,-0.5) (70,-0.65) (72,-0.9) (75,-0.81) (78,-0.5) (80,-0.48) (83,-0.8) (85,-0.65) (88,-0.4) (90,-0.4) (93,-0.6) (95,-0.24) (97,0.1)};
\addplot[sig, unbounded coords=jump] coordinates {(1,8) (3.2,8) (nan,nan) (3.76,8) (4.07,8) (nan,nan) (4.3,8) (5.95,8) (nan,nan) (6.95,8) (7.15,8) (nan,nan) (9.3,8) (9.5,8) (nan,nan) (10.3,8) (11.7,8) (nan,nan) (12.3,8) (16.2,8) (nan,nan) (17,8) (17.4,8) (nan,nan) (18,8) (18.5,8) (nan,nan) (19.2,8) (20,8)};
\addplot[gray, only marks, mark=|, mark size=2pt, mark options={line width=0.5pt}] coordinates {(24.2,8) (27.6,8) (41.5,8) (44,8) (47,8) (52,8) (55,8) (60,8) (64,8) (67,8) (70,8) (73,8) (76,8) (80,8) (84,8) (88,8) (92,8) (96,8)};
\end{axis}
\end{tikzpicture}
\end{document}
